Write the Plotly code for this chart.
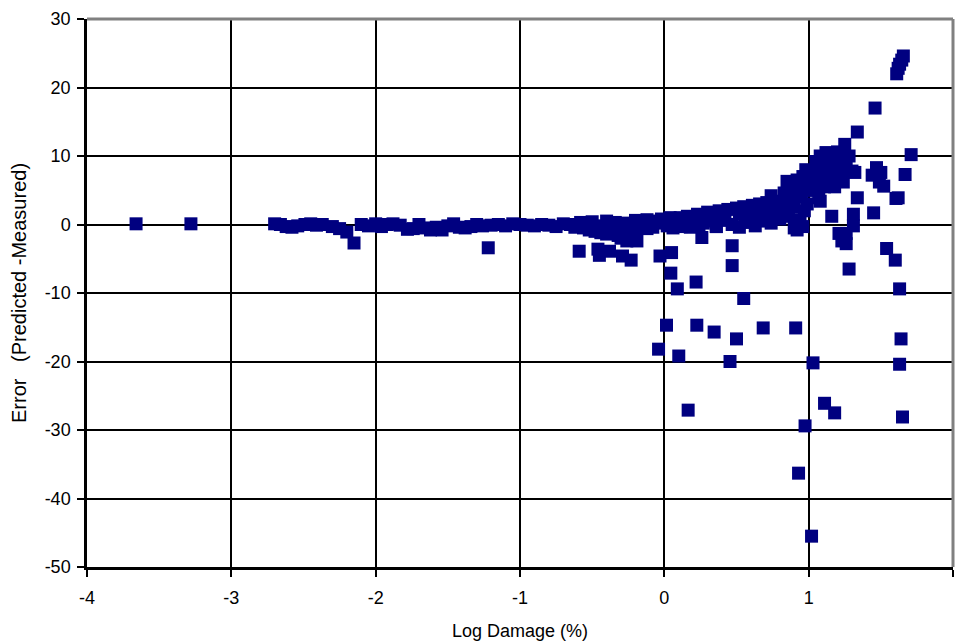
import plotly.graph_objects as go

# Log Damage (%) values
log_damage = [
    -3.66, -3.28,
    -2.70, -2.66, -2.62, -2.58, -2.54, -2.49, -2.45, -2.41, -2.37,
    -2.30, -2.25, -2.20, -2.15,
    -2.10, -2.05, -2.00, -1.96, -1.92, -1.88,
    -1.83, -1.78, -1.74, -1.70, -1.66, -1.62, -1.58, -1.54, -1.50, -1.46,
    -1.42, -1.38, -1.34, -1.30, -1.26, -1.22, -1.20, -1.15, -1.10, -1.05,
    -1.00, -0.95, -0.90, -0.85, -0.80, -0.75, -0.70, -0.65, -0.62, -0.59,
    -0.58, -0.54, -0.50, -0.46, -0.46, -0.45, -0.42, -0.40, -0.38, -0.36,
    -0.34, -0.32, -0.30, -0.29, -0.28, -0.26, -0.24, -0.23, -0.22, -0.20,
    -0.19, -0.16, -0.12, -0.10, -0.06, -0.04, -0.03, -0.02, 0.00, 0.02,
    0.015, 0.05, 0.045, 0.04, 0.08, 0.09, 0.10, 0.11, 0.13, 0.165,
    0.16, 0.20, 0.22, 0.225, 0.23, 0.26, 0.27, 0.30, 0.33, 0.345,
    0.36, 0.38, 0.41, 0.44, 0.455, 0.47, 0.47, 0.47, 0.50, 0.50,
    0.52, 0.55, 0.55, 0.58, 0.61, 0.63, 0.66, 0.685, 0.68, 0.71,
    0.74, 0.74, 0.77, 0.80, 0.83, 0.85, 0.86, 0.88, 0.90, 0.91,
    0.92, 0.93, 0.94, 0.96, 0.975, 0.98, 0.99, 1.02, 1.03, 1.00,
    1.03, 1.05, 1.07, 1.08, 1.10, 1.11, 1.12, 1.125, 1.15, 1.16,
    1.17, 1.18, 1.20, 1.22, 1.24, 1.25, 1.26, 1.23, 1.28, 1.30,
    1.31, 1.31, 1.32, 1.337, 1.337, 1.45, 1.46, 1.44, 1.47, 1.50,
    1.49, 1.52, 1.54, 1.60, 1.605, 1.62, 1.61, 1.62, 1.63, 1.645,
    1.656, 1.63, 1.64, 1.63, 1.65, 1.668, 1.71,
    0.52, 0.56, 0.60, 0.64, 0.68, 0.72, 0.76, 0.79, 0.82, 0.84,
    0.87, 0.89, 0.90, 0.93, 0.95, 0.97, 0.99,
    1.01, 1.04, 1.06, 1.09, 1.11, 1.13, 1.14, 1.16, 1.19, 1.21,
    1.23, 1.26, 1.28, 1.18, 1.24,
    0.92, 0.96, 0.97, 1.08, 1.21, 1.26,
    -0.56, -0.52, -0.48, -0.44, -0.40, -0.36, -0.32, -0.28, -0.24, -0.20,
    -0.16, -0.12, -0.08, 0.06, 0.12, 0.18, 0.24, 0.30, 0.36, 0.42,
]

# Error (Predicted - Measured)
error = [
    0.1, 0.1,
    0.1, 0.0, -0.3, -0.4, -0.2, 0.0, 0.1, -0.1, 0.0,
    -0.3, -0.6, -1.1, -2.7,
    0.0, -0.2, 0.1, -0.3, 0.0, 0.1,
    -0.1, -0.7, -0.6, 0.0, -0.5, -0.8, -0.4, -0.8, -0.2, 0.1,
    -0.4, -0.5, -0.3, 0.0, -0.2, -3.4, -0.1, 0.0, -0.2, 0.1,
    0.0, -0.1, -0.2, 0.0, -0.1, -0.3, 0.1, 0.0, -0.4, -3.9,
    0.3, 0.1, 0.4, -0.6, -3.6, -4.5, -0.2, 0.5, -3.9, -1.0,
    0.3, -1.6, -2.0, -4.6, 0.2, -2.4, -0.8, -5.2, -1.5, 0.6,
    -2.4, -0.5, 0.7, -0.3, 0.5, -18.2, -4.6, 0.8, 0.2, -0.2,
    -14.7, -4.1, -7.1, 1.0, 0.3, -9.4, -19.2, 1.0, 0.0, -27.1,
    1.2, 0.4, -8.4, -14.7, 1.5, -1.9, 0.2, 1.8, 0.5, -15.7,
    -0.3, 2.0, 0.6, 2.2, -20.0, -3.1, -6.0, 0.0, -16.7, 2.4,
    -0.4, -10.8, 2.6, 0.3, 2.8, -0.2, 3.0, -15.1, 0.5, 3.2,
    4.2, 0.2, 3.4, 0.8, 4.6, 6.3, 1.2, 5.5, -0.5, -15.1,
    6.5, -36.3, 0.6, 7.0, -29.4, 8.0, 3.0, -45.5, -20.2, 5.8,
    7.5, 9.2, 3.9, 10.0, 8.5, -26.1, 10.5, 6.0, 9.4, 1.2,
    7.2, -27.5, 10.6, 8.8, -1.9, 11.7, -1.3, -2.4, -6.5, 7.8,
    1.5, -0.2, 7.6, 13.5, 3.9, 1.7, 17.0, 7.2, 8.3, 7.6,
    6.2, 5.6, -3.5, -5.2, 3.8, 3.9, 22.0, 22.8, 23.4, 24.0,
    24.6, -9.4, -16.7, -20.4, -28.1, 7.3, 10.2,
    1.5, 1.0, 1.8, 1.2, 2.2, 1.5, 2.5, 2.0, 3.0, 2.0,
    3.8, 4.5, 2.5, 5.0, 4.0, 6.0, 5.0,
    6.8, 5.0, 6.5, 7.5, 5.5, 8.0, 9.8, 6.5, 8.5, 9.5,
    7.0, 8.5, 10.0, 5.5, 6.2,
    -0.8, -0.3, 2.0, 3.4, -1.3, -2.8,
    -0.5, -0.8, -1.0, -1.2, -1.4, -0.6, -1.0, -1.3, -0.9, -1.1,
    0.0, -0.6, -0.4, -0.5, -0.3, -0.4, 0.0, 0.6, -0.3, 1.0,
]

# Tick values and labels (hyphen minus as in the original)
x_ticks = [-4, -3, -2, -1, 0, 1, 2]
x_tick_labels = ["-4", "-3", "-2", "-1", "0", "1", "2"]
y_ticks = [30, 20, 10, 0, -10, -20, -30, -40, -50]
y_tick_labels = ["30", "20", "10", "0", "-10", "-20", "-30", "-40", "-50"]

fig = go.Figure()
fig.add_trace(go.Scatter(
    x=log_damage, y=error, mode="markers",
    marker=dict(symbol="square", size=13, color="#000080", line=dict(width=0)),
    showlegend=False,
))

font = "Liberation Sans, Arial, sans-serif"
fig.update_layout(
    width=956, height=644,
    margin=dict(l=87, r=3, t=19, b=77),
    paper_bgcolor="white", plot_bgcolor="white",
    font=dict(family=font, size=18, color="black"),
    xaxis=dict(
        range=[-4, 2], tickmode="array", tickvals=x_ticks, ticktext=x_tick_labels,
        showgrid=True, gridcolor="black", gridwidth=1.5,
        zeroline=True, zerolinecolor="black", zerolinewidth=1.5,
        showline=True, linecolor="black", linewidth=2.5,
        ticks="outside", ticklen=7, tickwidth=2, tickcolor="black",
        ticklabelstandoff=6,
        title=dict(text="Log Damage (%)", standoff=18, font=dict(size=18)),
    ),
    yaxis=dict(
        range=[-50, 30], tickmode="array", tickvals=y_ticks, ticktext=y_tick_labels,
        showgrid=True, gridcolor="black", gridwidth=1.5,
        zeroline=True, zerolinecolor="black", zerolinewidth=1.5,
        showline=True, linecolor="black", linewidth=2.5,
        ticks="outside", ticklen=7, tickwidth=2, tickcolor="black",
        ticklabelstandoff=3,
        title=dict(text="Error   (Predicted -Measured)", standoff=13, font=dict(size=20)),
    ),
    shapes=[
        dict(type="line", xref="paper", yref="paper", x0=0, x1=1, y0=1, y1=1,
             line=dict(color="#808080", width=3)),
        dict(type="line", xref="paper", yref="paper", x0=1, x1=1, y0=0, y1=1,
             line=dict(color="#808080", width=3)),
    ],
)

fig.write_html("out.html")
